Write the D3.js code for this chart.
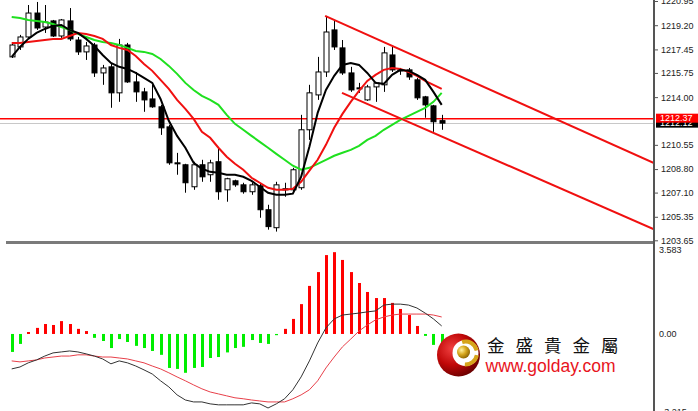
<!DOCTYPE html>
<html><head><meta charset="utf-8">
<script src="https://cdn.jsdelivr.net/npm/d3@7/dist/d3.min.js"></script>
<style>html,body{margin:0;padding:0;background:#fff}svg{display:block}</style>
</head><body>
<script>
// ---- data ----
const opens = [1216.91,1217.63,1218.35,1220.08,1219.07,1219.51,1218.42,1219.51,1218.13,1217.27,
1217.77,1215.75,1216.19,1214.31,1217.77,1215.10,1214.38,1213.87,1213.30,1211.85,
1209.25,1209.11,1207.52,1209.11,1208.39,1209.33,1207.30,1207.95,1207.66,1207.16,
1207.59,1205.86,1204.56,1207.30,1207.30,1207.45,1211.64,1214.16,1215.82,1218.86,
1217.56,1215.75,1214.67,1213.80,1214.74,1214.89,1217.05,1215.97,1215.97,1215.25,
1214.02,1213.37,1212.30];
const highs = [1217.92,1218.50,1220.66,1220.88,1220.66,1219.58,1219.65,1220.44,1218.35,1217.99,
1217.92,1216.33,1216.47,1218.21,1217.92,1215.82,1214.67,1214.89,1213.44,1212.00,
1209.97,1209.18,1209.33,1209.47,1209.47,1210.34,1208.17,1208.03,1207.81,1207.81,
1207.74,1206.22,1207.88,1207.81,1208.89,1212.72,1214.89,1216.91,1219.87,1219.58,
1218.13,1216.19,1215.03,1214.89,1215.10,1217.63,1217.63,1216.11,1216.11,1215.39,
1214.09,1213.44,1212.72];
const lows = [1216.83,1217.41,1218.28,1218.86,1218.64,1218.35,1218.28,1218.06,1217.05,1216.69,
1215.46,1214.89,1213.23,1213.66,1215.03,1213.66,1212.94,1213.23,1211.27,1209.11,
1208.39,1207.09,1207.30,1207.88,1207.88,1206.58,1206.44,1207.52,1207.02,1206.94,
1205.28,1204.42,1204.28,1206.80,1207.16,1207.30,1210.91,1213.80,1215.46,1217.41,
1215.61,1214.38,1214.31,1213.73,1213.66,1214.38,1215.82,1215.61,1215.25,1213.80,
1212.51,1211.49,1211.64];
const closes = [1217.77,1218.35,1220.08,1219.00,1219.43,1218.42,1219.58,1218.21,1217.27,1217.70,
1215.75,1216.11,1214.31,1217.77,1215.10,1214.38,1213.80,1213.30,1211.78,1209.25,
1209.18,1207.81,1209.11,1208.24,1209.25,1207.16,1208.10,1207.66,1207.16,1207.66,
1205.86,1204.64,1207.66,1207.38,1208.75,1211.64,1214.31,1215.82,1218.71,1217.63,
1215.75,1214.52,1214.60,1214.74,1215.03,1217.20,1215.97,1215.90,1215.46,1213.95,
1213.44,1212.22,1212.12];
const maFast = [1216.91,1217.63,1218.21,1218.64,1218.93,1219.15,1219.22,1218.86,1218.64,1218.21,
1217.70,1217.05,1216.47,1216.19,1216.04,1215.75,1215.39,1215.03,1213.87,1212.29,
1211.20,1210.34,1209.25,1208.82,1208.60,1208.53,1208.39,1208.39,1208.24,1207.95,
1207.52,1207.09,1206.94,1206.94,1207.02,1208.24,1210.41,1212.86,1214.52,1215.54,
1216.33,1216.47,1216.33,1215.75,1215.03,1214.96,1215.61,1215.97,1215.90,1215.61,
1215.25,1214.38,1213.44];
const maMid = [1217.92,1217.92,1217.99,1218.06,1218.13,1218.21,1218.21,1218.42,1218.64,1218.57,
1218.42,1218.21,1217.77,1217.56,1217.41,1216.98,1216.40,1215.90,1215.25,1214.60,
1213.80,1213.15,1212.43,1211.49,1211.06,1210.34,1209.69,1209.18,1208.75,1208.17,
1207.81,1207.45,1207.30,1207.30,1207.38,1207.88,1208.68,1209.47,1210.55,1211.78,
1212.79,1213.66,1214.45,1215.17,1215.61,1215.97,1216.11,1216.04,1215.82,1215.54,
1215.17,1214.89,1214.60];
const maSlow = [1219.80,1219.72,1219.58,1219.51,1219.43,1219.29,1219.07,1218.86,1218.57,1218.35,
1218.13,1217.99,1217.92,1217.77,1217.56,1217.34,1217.27,1217.12,1216.76,1216.26,
1215.68,1215.03,1214.52,1214.09,1213.80,1213.44,1212.72,1212.07,1211.64,1211.20,
1210.77,1210.34,1209.90,1209.47,1209.04,1208.75,1208.89,1209.18,1209.47,1209.76,
1209.98,1210.19,1210.48,1210.91,1211.20,1211.64,1212.00,1212.36,1212.65,1212.94,
1213.23,1213.66,1214.31];
const macdHist = [-0.74,-0.41,0.08,0.25,0.41,0.37,0.53,0.41,0.21,0.12,
-0.16,-0.29,-0.58,-0.21,-0.33,-0.49,-0.58,-0.70,-0.86,-1.40,
-1.44,-1.60,-1.40,-1.36,-0.99,-0.95,-0.76,-0.58,-0.53,-0.25,
-0.37,-0.41,-0.05,0.21,0.62,1.23,1.98,2.55,3.25,3.37,
3.05,2.55,2.10,1.73,1.48,1.48,1.28,1.03,0.78,0.33,
-0.08,-0.45,-0.37];
const macdLine = [-1.44,-1.36,-1.19,-1.07,-0.91,-0.78,-0.74,-0.70,-0.74,-0.82,
-0.91,-1.03,-1.23,-1.11,-1.19,-1.32,-1.48,-1.65,-1.93,-2.18,
-2.51,-2.72,-2.80,-2.80,-2.88,-2.92,-2.92,-2.92,-2.92,-2.84,
-2.88,-3.05,-2.88,-2.67,-2.30,-1.77,-1.11,-0.37,0.25,0.62,
0.78,0.82,0.86,0.91,0.95,1.19,1.23,1.23,1.19,1.07,
0.86,0.62,0.33];
const signalLine = [-1.11,-1.15,-1.11,-1.07,-0.99,-0.95,-0.91,-0.91,-0.86,-0.86,
-0.91,-0.95,-0.95,-0.99,-1.03,-1.11,-1.19,-1.32,-1.44,-1.60,
-1.77,-1.93,-2.10,-2.26,-2.39,-2.47,-2.55,-2.63,-2.67,-2.72,
-2.76,-2.80,-2.80,-2.80,-2.67,-2.51,-2.30,-1.93,-1.40,-0.95,
-0.53,-0.21,0.12,0.37,0.58,0.70,0.78,0.82,0.82,0.82,
0.82,0.78,0.70];
const trendTop = [[37.9,1219.87],[77.67,1209.24]];
const trendBottom = [[39.94,1214.31],[77.67,1204.45]];
const priceTicks = [1220.95,1219.20,1217.45,1215.75,1214.00,1210.55,1208.80,1207.10,1205.35,1203.65];
const askPrice = 1212.37, bidPrice = 1212.12;
const macdTicks = [3.583, 0.00, -3.215];
const brandName = "金盛貴金屬";
const brandUrl = "www.golday.com";

// ---- drawing ----
const W = 698, H = 411, axisX = 654;
const svg = d3.select("body").append("svg").attr("width", W).attr("height", H)
  .style("font-family", "'Liberation Sans', Arial, sans-serif");
const defs = svg.append("defs");
defs.append("clipPath").attr("id","cMain").append("rect").attr("x",0).attr("y",0).attr("width",axisX-1).attr("height",241);
defs.append("clipPath").attr("id","cMacd").append("rect").attr("x",0).attr("y",244).attr("width",axisX-1).attr("height",167);

const x = d3.scaleLinear().domain([0, 52]).range([11.7, 441.7]);
const y = d3.scaleLinear().domain([1203.65, 1220.95]).range([240.3, 1]);
const ym = d3.scaleLinear().domain([-3.215, 3.583]).range([412, 247]);
const px = i => Math.round(x(i)) + 0.5;

const main = svg.append("g").attr("clip-path","url(#cMain)");

// bid / ask lines
main.append("line").attr("x1",0).attr("x2",axisX).attr("y1",Math.round(y(bidPrice))+0.5).attr("y2",Math.round(y(bidPrice))+0.5)
  .attr("stroke","#c8c8c8").attr("stroke-width",1);
main.append("line").attr("x1",0).attr("x2",axisX).attr("y1",y(askPrice)-1).attr("y2",y(askPrice)-1)
  .attr("stroke","#ff0000").attr("stroke-width",1.6);

// candles
const idx = d3.range(opens.length);
const cg = main.append("g");
cg.selectAll("line.wick").data(idx).join("line").attr("class","wick")
  .attr("x1",px).attr("x2",px).attr("y1",i=>y(highs[i])).attr("y2",i=>y(lows[i]))
  .attr("stroke","#000").attr("stroke-width",1);
cg.selectAll("rect.body").data(idx).join("rect").attr("class","body")
  .attr("x",i=>px(i)-2.5).attr("width",5)
  .attr("y",i=>y(Math.max(opens[i],closes[i])))
  .attr("height",i=>Math.max(1, Math.abs(y(opens[i])-y(closes[i]))))
  .attr("fill",i=>closes[i]>=opens[i]?"#fff":"#000")
  .attr("stroke","#000").attr("stroke-width",1);

// moving averages
const lineGen = arr => d3.line().x((d,i)=>x(i)).y(d=>y(d))(arr);
main.append("path").attr("d",lineGen(maSlow)).attr("fill","none").attr("stroke","#1fe01f").attr("stroke-width",2);
main.append("path").attr("d",lineGen(maMid)).attr("fill","none").attr("stroke","#f01010").attr("stroke-width",2);
main.append("path").attr("d",lineGen(maFast)).attr("fill","none").attr("stroke","#000").attr("stroke-width",2);

// trend channel
[trendTop, trendBottom].forEach(t=>{
  main.append("line").attr("x1",x(t[0][0])).attr("y1",y(t[0][1])).attr("x2",x(t[1][0])).attr("y2",y(t[1][1]))
    .attr("stroke","#f01010").attr("stroke-width",2);
});

// panel separator
svg.append("line").attr("x1",6).attr("x2",axisX).attr("y1",242.5).attr("y2",242.5).attr("stroke","#7a7a7a").attr("stroke-width",3);

// MACD
const mg = svg.append("g").attr("clip-path","url(#cMacd)");
mg.selectAll("rect").data(idx).join("rect")
  .attr("x",i=>Math.round(x(i))-1).attr("width",3)
  .attr("y",i=>Math.min(ym(0),ym(macdHist[i])))
  .attr("height",i=>Math.max(1,Math.abs(ym(0)-ym(macdHist[i]))))
  .attr("fill",i=>macdHist[i]>=0?"#ff0000":"#00ee00");
const mLine = arr => d3.line().x((d,i)=>x(i)).y(d=>ym(d))(arr);
mg.append("path").attr("d",mLine(signalLine)).attr("fill","none").attr("stroke","#e8404a").attr("stroke-width",1);
mg.append("path").attr("d",mLine(macdLine)).attr("fill","none").attr("stroke","#333").attr("stroke-width",1);

// right axis
svg.append("line").attr("x1",axisX).attr("x2",axisX).attr("y1",0).attr("y2",H).attr("stroke","#555").attr("stroke-width",2);
const ax = svg.append("g").attr("transform",`translate(${axisX+1},0)`)
  .call(d3.axisRight(y).tickValues(priceTicks).tickFormat(d3.format(".2f")).tickSize(3).tickPadding(3));
ax.select(".domain").remove();
ax.selectAll("text").attr("font-size",9).attr("fill","#222").style("font-family","'Liberation Sans', Arial, sans-serif");
ax.selectAll("line").attr("stroke","#555");
const axm = svg.append("g").attr("transform",`translate(${axisX+1},0)`)
  .call(d3.axisRight(ym).tickValues(macdTicks).tickFormat(d=>d===0?"0.00":d3.format(".3f")(d)).tickSize(0).tickPadding(4));
axm.select(".domain").remove();
axm.selectAll("text").attr("font-size",9).attr("fill","#222").style("font-family","'Liberation Sans', Arial, sans-serif");
axm.selectAll(".tick").filter(d=>d===3.583).attr("transform",`translate(0,${ym(3.583)+3})`);

// price tags
const tagB = svg.append("g").attr("transform",`translate(${axisX+2},${y(bidPrice)})`);
tagB.append("rect").attr("x",0).attr("y",-4.5).attr("width",W-axisX).attr("height",9).attr("fill","#000");
tagB.append("text").attr("x",4).attr("y",0).attr("dy","0.35em").attr("font-size",9).attr("fill","#fff").text(d3.format(".2f")(bidPrice));
const tagA = svg.append("g").attr("transform",`translate(${axisX+2},${y(askPrice)-1.5})`);
tagA.append("rect").attr("x",0).attr("y",-4.5).attr("width",W-axisX).attr("height",9).attr("fill","#ff0000");
tagA.append("text").attr("x",4).attr("y",0).attr("dy","0.35em").attr("font-size",9).attr("fill","#fff").text(d3.format(".2f")(askPrice));

// logo
const rg = defs.append("radialGradient").attr("id","redBall").attr("cx","35%").attr("cy","35%").attr("r","70%");
rg.append("stop").attr("offset","0%").attr("stop-color","#f04040");
rg.append("stop").attr("offset","55%").attr("stop-color","#c00808");
rg.append("stop").attr("offset","100%").attr("stop-color","#6a0000");
const gg = defs.append("radialGradient").attr("id","goldBall").attr("cx","35%").attr("cy","35%").attr("r","70%");
gg.append("stop").attr("offset","0%").attr("stop-color","#fff2a0");
gg.append("stop").attr("offset","50%").attr("stop-color","#d7a81e");
gg.append("stop").attr("offset","100%").attr("stop-color","#8a6200");
const logo = svg.append("g").attr("transform","translate(458.5,355)");
logo.append("circle").attr("r",21.5).attr("fill","url(#redBall)");
logo.append("circle").attr("cx",7).attr("cy",-2).attr("r",13).attr("fill","#fff");
const arc = d3.arc().innerRadius(9.5).outerRadius(13.5);
logo.append("path").attr("transform","translate(7,-2)").attr("d",arc({startAngle:-0.3,endAngle:1.35})).attr("fill","#d6a41a");
logo.append("path").attr("transform","translate(7,-2)").attr("d",arc({startAngle:1.75,endAngle:3.2})).attr("fill","#d6a41a");
logo.append("circle").attr("cx",5).attr("cy",-3).attr("r",6.5).attr("fill","url(#goldBall)");

svg.append("text").attr("x",487).attr("y",352).attr("font-size",17.5).attr("letter-spacing","11px")
  .style("font-family","'Noto Sans CJK TC','Noto Sans CJK SC',sans-serif").attr("fill","#111").text(brandName);
svg.append("text").attr("x",485.5).attr("y",372).attr("font-size",17.5)
  .style("font-family","'Liberation Sans', Arial, sans-serif").attr("fill","#e8141c").text(brandUrl);
</script>
</body></html>
